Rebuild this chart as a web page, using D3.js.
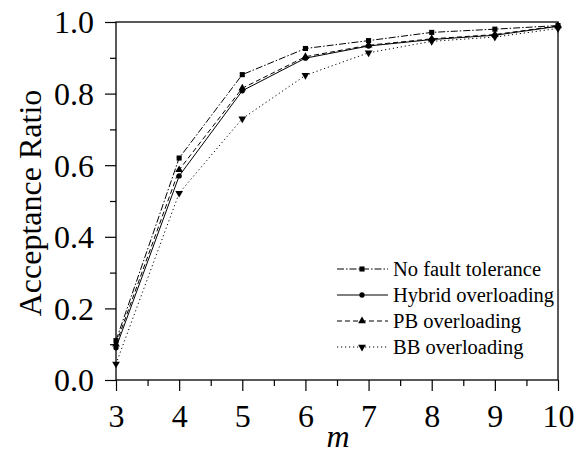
<!DOCTYPE html>
<html>
<head>
<meta charset="utf-8">
<script src="https://cdn.jsdelivr.net/npm/d3@7"></script>
<style>
  body { margin: 0; background: #fff; }
  svg { display: block; }
</style>
</head>
<body>
<div class="container"></div>
<script>
// values
const mValues = [3, 4, 5, 6, 7, 8, 9, 10]
const noFault = [0.11, 0.62, 0.853, 0.926, 0.948, 0.971, 0.98, 0.99]
const hybrid = [0.09, 0.57, 0.808, 0.899, 0.933, 0.951, 0.963, 0.988]
const pbOver = [0.10, 0.587, 0.815, 0.903, 0.935, 0.953, 0.965, 0.989]
const bbOver = [0.045, 0.522, 0.73, 0.851, 0.914, 0.946, 0.958, 0.982]
const yTicks = [0, 0.2, 0.4, 0.6, 0.8, 1.0]

const series = [
  {name: "No fault tolerance", values: noFault, dash: "7,2,1.5,2", symbol: d3.symbolSquare, size: 26},
  {name: "Hybrid overloading", values: hybrid, dash: null, symbol: d3.symbolCircle, size: 22},
  {name: "PB overloading", values: pbOver, dash: "5,3", symbol: d3.symbolTriangle, size: 26},
  {name: "BB overloading", values: bbOver, dash: "1.2,2.8", symbol: d3.symbolTriangle, size: 26, flip: true}
]

const serif = "Liberation Serif"
const width = 586, height = 455
const plotLeft = 116, plotRight = 558, plotTop = 22, plotBottom = 380

const svg = d3.select(".container").append("svg")
  .attr("width", width)
  .attr("height", height)

const x = d3.scaleLinear().domain([3, 10]).range([plotLeft, plotRight])
const y = d3.scaleLinear().domain([0, 1]).range([plotBottom, plotTop])

// frame
svg.append("rect")
  .attr("x", plotLeft).attr("y", plotTop)
  .attr("width", plotRight - plotLeft).attr("height", plotBottom - plotTop)
  .attr("fill", "none").attr("stroke", "#000").attr("stroke-width", 1.3)

// x axis
const xAxis = svg.append("g").attr("transform", `translate(0,${plotBottom})`)
xAxis.call(d3.axisBottom(x).tickValues(d3.range(3, 10.01, 0.5)).tickSize(6).tickFormat(""))
xAxis.call(g => g.select(".domain").remove())
xAxis.selectAll(".tick line").attr("stroke-width", 1.2)
xAxis.selectAll(".tick line").filter(d => d % 1 === 0).attr("y2", 11)
xAxis.selectAll(".tick").filter(d => d % 1 === 0)
  .append("text")
  .attr("y", 47)
  .attr("text-anchor", "middle")
  .style("font-family", serif)
  .style("font-size", "32px")
  .attr("fill", "#000")
  .text(d => d)

// y axis
const yAxis = svg.append("g").attr("transform", `translate(${plotLeft},0)`)
yAxis.call(d3.axisLeft(y).tickValues(d3.range(0, 1.001, 0.1)).tickSize(6).tickFormat(""))
yAxis.call(g => g.select(".domain").remove())
yAxis.selectAll(".tick line").attr("stroke-width", 1.2)
yAxis.selectAll(".tick line").filter(d => yTicks.some(t => Math.abs(t - d) < 1e-6)).attr("x2", -11)
yAxis.selectAll(".tick").filter(d => yTicks.some(t => Math.abs(t - d) < 1e-6))
  .append("text")
  .attr("x", -22)
  .attr("dy", "0.34em")
  .attr("text-anchor", "end")
  .style("font-family", serif)
  .style("font-size", "32px")
  .attr("fill", "#000")
  .text(d => d.toFixed(1))

// axis titles
svg.append("text")
  .attr("transform", `translate(41,${(plotTop + plotBottom) / 2 + 2}) rotate(-90)`)
  .attr("text-anchor", "middle")
  .style("font-family", serif)
  .style("font-size", "32px")
  .text("Acceptance Ratio")

svg.append("text")
  .attr("x", (plotLeft + plotRight) / 2 + 1)
  .attr("y", 447)
  .attr("text-anchor", "middle")
  .style("font-family", serif)
  .style("font-size", "32px")
  .style("font-style", "italic")
  .text("m")

// lines and markers
const line = d3.line().x((d, i) => x(mValues[i])).y(d => y(d))

series.forEach(s => {
  svg.append("path")
    .datum(s.values)
    .attr("d", line)
    .attr("fill", "none")
    .attr("stroke", "#000")
    .attr("stroke-width", 1)
    .attr("stroke-dasharray", s.dash)

  svg.selectAll(null)
    .data(s.values)
    .enter()
    .append("path")
    .attr("d", d3.symbol().type(s.symbol).size(s.size))
    .attr("transform", (d, i) => `translate(${x(mValues[i])},${y(d)})` + (s.flip ? " rotate(180)" : ""))
    .attr("fill", "#000")
})

// legend
const legend = svg.append("g")
series.forEach((s, i) => {
  const ly = 269 + i * 26
  legend.append("line")
    .attr("x1", 337).attr("x2", 388)
    .attr("y1", ly).attr("y2", ly)
    .attr("stroke", "#000")
    .attr("stroke-width", 1)
    .attr("stroke-dasharray", s.dash)
  legend.append("path")
    .attr("d", d3.symbol().type(s.symbol).size(s.size))
    .attr("transform", `translate(362,${ly})` + (s.flip ? " rotate(180)" : ""))
    .attr("fill", "#000")
  legend.append("text")
    .attr("x", 393)
    .attr("y", ly)
    .attr("dy", "0.33em")
    .style("font-family", serif)
    .style("font-size", "20.5px")
    .text(s.name)
})
</script>
</body>
</html>
